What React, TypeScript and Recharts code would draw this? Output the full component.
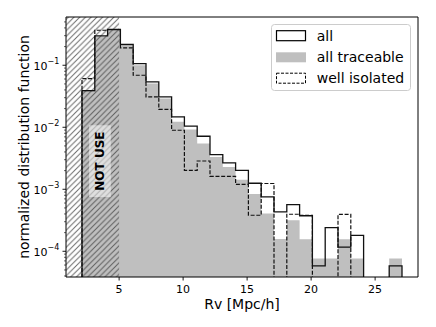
import {
  Area,
  ComposedChart,
  Legend,
  Line,
  ReferenceArea,
  ReferenceLine,
  XAxis,
  YAxis,
} from 'recharts'

// bin edges of the Rv histogram (Mpc/h)
const binEdges = [
  2.1, 3.1, 4.1, 5.1, 6.1, 7.1, 8.1, 9.1, 10.1, 11.1, 12.1, 13.1, 14.1, 15.1, 16.1, 17.1, 18.1,
  19.1, 20.1, 21.1, 22.1, 23.1, 24.1, 25.1, 26.1, 27.1,
]

const allValues = [
  0.0388, 0.297, 0.377, 0.216, 0.106, 0.0538, 0.0308, 0.0147, 0.0104, 0.00716, 0.00363, 0.00266,
  0.00202, 0.00125, 0.000752, 0.000431, 0.000566, 0.000374, 0.0000583, 0.000241, 0.000117,
  0.000181, 0, 0, 0.0000583,
]

const traceableValues = [
  0.037, 0.29, 0.37, 0.208, 0.1, 0.0507, 0.029, 0.0123, 0.00918, 0.00546, 0.00332, 0.00229,
  0.00143, 0.000838, 0.000406, 0.000158, 0.000316, 0.000156, 0.0000762, 0.0000762, 0.000156,
  0.0000762, 0, 0, 0.0000762,
]

const isolatedValues = [
  0.061, 0.367, 0.377, 0.19, 0.069, 0.0308, 0.0195, 0.00895, 0.00202, 0.00286, 0.00162, 0.00162,
  0.0012, 0.000381, 0.00124, 0, 0.000396, 0.000381, 0, 0, 0.000394, 0, 0, 0, 0,
]

const xTicks = [5, 10, 15, 20, 25]
const yMajorTicks = [1e-4, 1e-3, 1e-2, 1e-1]
const yMinorTicks = [
  4e-5, 5e-5, 6e-5, 7e-5, 8e-5, 9e-5,
  2e-4, 3e-4, 4e-4, 5e-4, 6e-4, 7e-4, 8e-4, 9e-4,
  2e-3, 3e-3, 4e-3, 5e-3, 6e-3, 7e-3, 8e-3, 9e-3,
  2e-2, 3e-2, 4e-2, 5e-2, 6e-2, 7e-2, 8e-2, 9e-2,
  2e-1, 3e-1, 4e-1, 5e-1,
]

const X_MIN = 0.85
const X_MAX = 28.35
const Y_MIN = 3.85e-5
const Y_MAX = 0.6
const FLOOR = 1e-7 // stands in for empty bins on the log axis (clipped away)
const CUT = 5 // Rv below this is not used

const FONT = 'DejaVu Sans'

function stepData(values: number[]) {
  const pts = [{ x: binEdges[0], y: FLOOR }]
  values.forEach((v, i) => pts.push({ x: binEdges[i], y: v > 0 ? v : FLOOR }))
  const last = values[values.length - 1]
  pts.push({ x: binEdges[binEdges.length - 1], y: last > 0 ? last : FLOOR })
  pts.push({ x: binEdges[binEdges.length - 1], y: FLOOR })
  return pts
}

const allData = stepData(allValues)
const traceableData = stepData(traceableValues)
const isolatedData = stepData(isolatedValues)

function XTick(props: any) {
  const { x, y, payload } = props
  return (
    <g>
      <line x1={x} x2={x} y1={y} y2={y + 3.5} stroke="#000" strokeWidth={0.9} />
      <text x={x} y={y + 16.3} textAnchor="middle" fontSize={11} fontFamily={FONT} fill="#000">
        {payload.value}
      </text>
    </g>
  )
}

function YTick(props: any) {
  const { x, y, payload } = props
  const lg = Math.log10(payload.value)
  const exp = Math.round(lg)
  const major = Math.abs(lg - exp) < 1e-6
  return (
    <g>
      <line
        x1={x - (major ? 3.5 : 2)}
        x2={x}
        y1={y}
        y2={y}
        stroke="#000"
        strokeWidth={major ? 0.9 : 0.6}
      />
      {major ? (
        <text x={x - 6.7} y={y + 4.3} textAnchor="end" fontSize={11} fontFamily={FONT} fill="#000">
          <tspan>10</tspan>
          <tspan fontSize={8} dy={-5.5}>{`\u2212${Math.abs(exp)}`}</tspan>
        </text>
      ) : null}
    </g>
  )
}

function NotUseLabel(props: any) {
  const { viewBox } = props
  const cx = viewBox.x + viewBox.width / 2
  const cy = viewBox.y + viewBox.height / 2
  return (
    <text
      x={cx}
      y={cy}
      transform={`rotate(-90 ${cx} ${cy})`}
      textAnchor="middle"
      dominantBaseline="central"
      fontSize={12}
      fontWeight="bold"
      fontFamily={FONT}
      fill="#000"
    >
      NOT USE
    </text>
  )
}

function LegendBox() {
  const rows = [
    { label: 'all', cy: 11.7 },
    { label: 'all traceable', cy: 33.3 },
    { label: 'well isolated', cy: 54.2 },
  ]
  return (
    <svg width={140} height={67}>
      <rect x={0.5} y={0.5} width={139} height={66} rx={3} fill="#fff" fillOpacity={0.8} stroke="#ccc" />
      <rect x={5.5} y={rows[0].cy - 5} width={29} height={10} fill="#fff" stroke="#000" strokeWidth={1.2} />
      <rect x={5} y={rows[1].cy - 5} width={30} height={10} fill="#bfbfbf" />
      <rect
        x={5.5}
        y={rows[2].cy - 5}
        width={29}
        height={10}
        fill="#fff"
        stroke="#000"
        strokeWidth={1}
        strokeDasharray="3 1.5"
      />
      {rows.map((r) => (
        <text key={r.label} x={45.7} y={r.cy + 5} fontSize={14} fontFamily={FONT} fill="#000">
          {r.label}
        </text>
      ))}
    </svg>
  )
}

export default function App() {
  return (
    <div style={{ position: 'absolute', left: 0, top: 0, width: 436, height: 327, background: '#fff' }}>
      <ComposedChart width={436} height={327} margin={{ top: 17, right: 18, bottom: 0, left: 0 }}>
        <defs>
          <pattern id="hatch" patternUnits="userSpaceOnUse" width={5.7} height={5.7}>
            <path
              d="M-1,1 L1,-1 M0,5.7 L5.7,0 M4.7,6.7 L6.7,4.7"
              stroke="#444"
              strokeOpacity={0.8}
              strokeWidth={1}
            />
          </pattern>
        </defs>
        <XAxis
          type="number"
          dataKey="x"
          domain={[X_MIN, X_MAX]}
          allowDataOverflow
          ticks={xTicks}
          interval={0}
          height={50}
          tickSize={0}
          tickMargin={0}
          tick={<XTick />}
          axisLine={{ stroke: '#000', strokeWidth: 1 }}
          label={{
            content: (p: any) => (
              <text
                x={p.viewBox.x + p.viewBox.width / 2}
                y={p.viewBox.y + 32.3}
                textAnchor="middle"
                fontSize={14}
                fontFamily={FONT}
                fill="#000"
              >
                Rv [Mpc/h]
              </text>
            ),
          }}
        />
        <YAxis
          type="number"
          dataKey="y"
          scale="log"
          domain={[Y_MIN, Y_MAX]}
          allowDataOverflow
          ticks={[...yMinorTicks, ...yMajorTicks]}
          interval={0}
          width={66}
          tickSize={0}
          tickMargin={0}
          tick={<YTick />}
          axisLine={{ stroke: '#000', strokeWidth: 1 }}
          label={{
            content: (p: any) => {
              const lx = p.viewBox.x + 28.5
              const ly = p.viewBox.y + p.viewBox.height / 2
              return (
                <text
                  x={lx}
                  y={ly}
                  transform={`rotate(-90 ${lx} ${ly})`}
                  textAnchor="middle"
                  fontSize={14}
                  fontFamily={FONT}
                  fill="#000"
                >
                  normalized distribution function
                </text>
              )
            },
          }}
        />
        <Area
          data={traceableData}
          dataKey="y"
          type="stepAfter"
          baseValue={FLOOR}
          fill="#bfbfbf"
          fillOpacity={1}
          stroke="none"
          isAnimationActive={false}
          name="all traceable"
        />
        <Line
          data={allData}
          dataKey="y"
          type="stepAfter"
          stroke="#111"
          strokeWidth={1.3}
          dot={false}
          isAnimationActive={false}
          name="all"
        />
        <Line
          data={isolatedData}
          dataKey="y"
          type="stepAfter"
          stroke="#111"
          strokeWidth={1.2}
          strokeDasharray="4 1.7"
          dot={false}
          isAnimationActive={false}
          name="well isolated"
        />
        <ReferenceArea
          x1={X_MIN}
          x2={CUT}
          y1={Y_MIN}
          y2={Y_MAX}
          fill="url(#hatch)"
          fillOpacity={1}
          stroke="none"
        />
        <ReferenceArea
          x1={2.65}
          x2={4.35}
          y1={7.5e-4}
          y2={1.08e-2}
          fill="#fff"
          fillOpacity={0.5}
          stroke="none"
          label={NotUseLabel}
        />
        <ReferenceLine y={Y_MAX} stroke="#000" strokeWidth={1} />
        <ReferenceLine x={X_MAX} stroke="#000" strokeWidth={1} />
        <Legend
          layout="horizontal"
          verticalAlign="middle"
          align="center"
          wrapperStyle={{ left: 271, top: 24, width: 140, height: 67 }}
          content={() => <LegendBox />}
        />
      </ComposedChart>
    </div>
  )
}
